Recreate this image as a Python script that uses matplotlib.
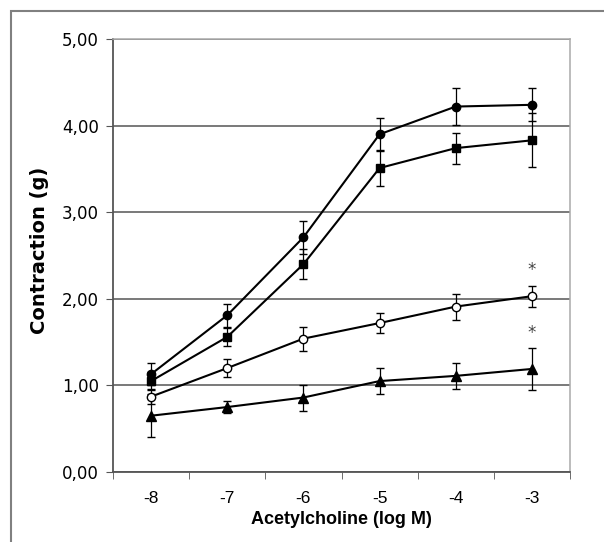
import matplotlib.pyplot as plt
from matplotlib.patches import Rectangle

doses = [-8, -7, -6, -5, -4, -3]

# filled circles
circ = [1.13, 1.81, 2.71, 3.90, 4.22, 4.24]
circ_err = [0.13, 0.13, 0.19, 0.19, 0.21, 0.19]
# filled squares
sq = [1.05, 1.56, 2.40, 3.51, 3.74, 3.83]
sq_err = [0.10, 0.10, 0.17, 0.21, 0.18, 0.31]
# open circles
ocirc = [0.87, 1.20, 1.54, 1.72, 1.91, 2.03]
ocirc_err = [0.09, 0.10, 0.14, 0.12, 0.15, 0.12]
# filled triangles
tri = [0.65, 0.75, 0.86, 1.05, 1.11, 1.19]
tri_err = [0.25, 0.07, 0.15, 0.15, 0.15, 0.24]

star_y = [2.33, 1.60]

fig = plt.figure(figsize=(6.04, 5.42), dpi=100)
ax = fig.add_axes([113 / 604, 1 - 472 / 542, 457 / 604, 433 / 542])

# outer frame (right and bottom edges run off the picture)
fig.patches.append(Rectangle((11 / 604, -0.1), 1.2, 1 - 11 / 542 + 0.1,
                             transform=fig.transFigure, fill=False,
                             edgecolor='#808080', lw=1.5))

series = [
    (circ, circ_err, 'o', 'black', 6),
    (sq, sq_err, 's', 'black', 6),
    (ocirc, ocirc_err, 'o', 'white', 6),
    (tri, tri_err, '^', 'black', 6.5),
]
for y, e, m, fc, ms in series:
    ax.errorbar(doses, y, yerr=e, color='black', lw=1.5, marker=m, ms=ms,
                mfc=fc, mec='black', mew=1, ecolor='black', elinewidth=0.9,
                capsize=3, capthick=0.9, zorder=3)

for sy in star_y:
    ax.text(-3, sy, '*', ha='center', va='center', fontsize=12, color='#444444')

ax.set_xlim(-8.5, -2.5)
ax.set_ylim(0, 5)
ax.set_yticks([0, 1, 2, 3, 4, 5])
ax.set_yticklabels(['0,00', '1,00', '2,00', '3,00', '4,00', '5,00'],
                   fontsize=12, family='DejaVu Sans')
ax.set_xticks(doses)
ax.set_xticklabels([str(d) for d in doses], fontsize=12.5, family='Liberation Sans')
ax.set_xticks([d - 0.5 for d in doses] + [-2.5], minor=True)
ax.tick_params(axis='x', which='major', length=0, pad=14)
ax.tick_params(axis='x', which='minor', length=5, direction='out', color='#555555')
ax.tick_params(axis='y', length=5, direction='out', pad=5, color='#555555')

ax.grid(axis='y', color='#555555', lw=1.1)
ax.set_axisbelow(True)
for side in ['left', 'bottom']:
    ax.spines[side].set_color('#555555')
    ax.spines[side].set_linewidth(1.3)
for side in ['top', 'right']:
    ax.spines[side].set_color('#aaaaaa')
    ax.spines[side].set_linewidth(1.1)

ax.set_xlabel('Acetylcholine (log M)', fontsize=13, fontweight='bold',
              family='Liberation Sans', va='center')
ax.xaxis.set_label_coords(0.5, (472 - 519) / 433)
ax.set_ylabel('Contraction (g)', fontsize=14, fontweight='bold',
              family='DejaVu Sans', va='center')
ax.yaxis.set_label_coords((40 - 113) / 457, (472 - 250) / 433)

plt.savefig('out.png', dpi=100)
